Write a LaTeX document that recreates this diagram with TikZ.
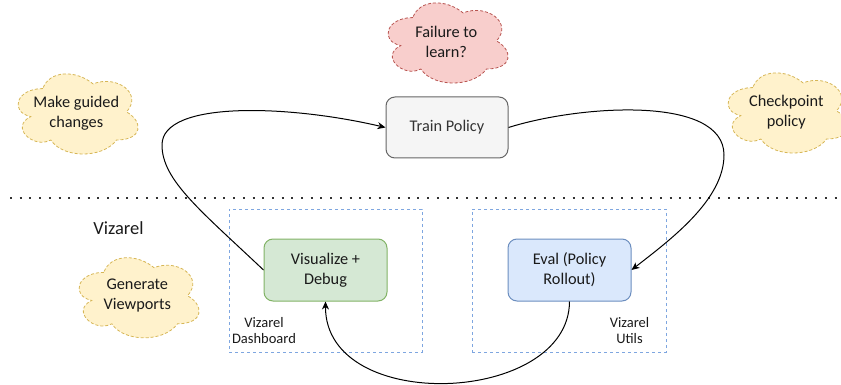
\documentclass[tikz,border=0pt]{standalone}
\usepackage{fontspec}
\setmainfont{Carlito}
\usetikzlibrary{arrows.meta}
\definecolor{yfill}{HTML}{FFF2CC}
\definecolor{ystroke}{HTML}{D6B656}
\definecolor{rfill}{HTML}{F8CECC}
\definecolor{rstroke}{HTML}{B85450}
\definecolor{gfill}{HTML}{D5E8D4}
\definecolor{gstroke}{HTML}{82B366}
\definecolor{bfill}{HTML}{DAE8FC}
\definecolor{bstroke}{HTML}{6C8EBF}
\definecolor{greyfill}{HTML}{F5F5F5}
\definecolor{greystroke}{HTML}{666666}
\definecolor{contstroke}{HTML}{7EA6E0}
\definecolor{txt}{HTML}{1A1A1A}
\definecolor{greytxt}{HTML}{333333}
\newcommand{\drawiocloud}[5]{%
  \begin{scope}[shift={(#1,#2)}, x=#3pt, y=-#4pt]
    \draw[#5] (0.25,0.25) .. controls (0.05,0.25) and (0,0.5) .. (0.16,0.55)
      .. controls (0,0.66) and (0.18,0.9) .. (0.31,0.8)
      .. controls (0.4,1) and (0.7,1) .. (0.8,0.8)
      .. controls (1,0.8) and (1,0.6) .. (0.875,0.5)
      .. controls (1,0.3) and (0.8,0.1) .. (0.625,0.2)
      .. controls (0.5,0.05) and (0.3,0.05) .. (0.25,0.25) -- cycle;
  \end{scope}}
\tikzset{
  mainfont/.style={font=\fontsize{16.3}{20}\selectfont},
  smallfont/.style={font=\fontsize{14.5}{16}\selectfont},
  procbox/.style={draw, rounded corners=9pt, line width=1pt, minimum width=122pt,
    minimum height=61pt, inner sep=0pt, align=center, mainfont, text=txt},
  container/.style={draw=contstroke, dashed, dash pattern=on 3pt off 3pt, line width=0.8pt,
    minimum height=143pt, inner sep=0pt},
  cloudtext/.style={align=center, mainfont, text=txt, inner sep=0pt},
  ycloud/.style={fill=yfill, draw=ystroke, dashed, dash pattern=on 3pt off 2pt, line width=0.8pt},
  rcloud/.style={fill=rfill, draw=rstroke, dashed, dash pattern=on 3pt off 2pt, line width=0.8pt},
  arr/.style={draw=black, line width=1pt, -{Stealth[length=8pt,width=7pt,inset=2.5pt]}},
  sepline/.style={draw=black!80, line width=2pt, dash pattern=on 2pt off 7.7pt},
  label/.style={align=center, smallfont, text=txt, inner sep=0pt}
}
\begin{document}
\begin{tikzpicture}[x=1pt, y=-1pt]
\useasboundingbox (0,0) rectangle (841,385);
% separator
\draw[sepline] (10,198) -- (841,198);
% containers
\node[container, minimum width=193pt] (dashbox) at (325.5,280.5) {};
\node[container, minimum width=194pt] (utilsbox) at (569,280.5) {};
% clouds
\drawiocloud{379.3}{-5.8}{134}{93.5}{rcloud}
\node[cloudtext] (fail) at (446.3,41.5) {Failure to\\learn?};
\drawiocloud{9.3}{65.2}{134}{93.5}{ycloud}
\node[cloudtext] (guided) at (76.3,113) {Make guided\\changes};
\drawiocloud{719.3}{64.2}{134}{93.5}{ycloud}
\node[cloudtext] (ckpt) at (786.3,112) {Checkpoint\\policy};
\drawiocloud{70.3}{249}{134}{93.5}{ycloud}
\node[cloudtext] (gen) at (137.3,296) {Generate\\Viewports};
% process boxes
\node[procbox, fill=greyfill, draw=greystroke, text=greytxt] (train) at (447,127.5) {Train Policy};
\node[procbox, fill=gfill, draw=gstroke, minimum width=123pt, minimum height=62pt] (vis) at (325.5,270) {Visualize +\\Debug};
\node[procbox, fill=bfill, draw=bstroke, minimum width=123pt, minimum height=62pt] (eval) at (569.5,270) {Eval (Policy\\Rollout)};
% labels
\node[align=center, font=\fontsize{18.5}{22}\selectfont, text=txt, inner sep=0pt] (viz) at (118.5,228) {Vizarel};
\node[label] (dashlbl) at (264,331) {Vizarel\\Dashboard};
\node[label] (utilslbl) at (629.5,331) {Vizarel\\Utils};
% connectors
\draw[arr] (vis.west) .. controls (200,210) and (162,180) .. (162,145)
  .. controls (162,100) and (290,105) .. (train.west);
\draw[arr] (train.east) .. controls (580,105) and (724,95) .. (724,155)
  .. controls (724,200) and (670,240) .. (eval.east);
\draw[arr] (eval.south) .. controls (569,405) and (325,415) .. (vis.south);
\end{tikzpicture}
\end{document}
